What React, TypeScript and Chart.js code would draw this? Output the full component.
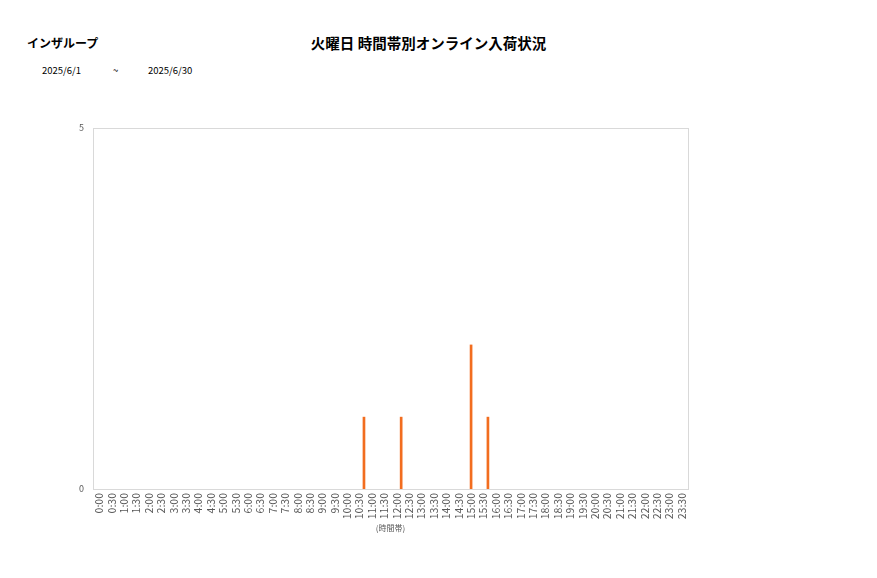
import { useEffect, useRef } from 'react'
import { Chart, registerables } from 'chart.js'

Chart.register(...registerables)

// 30-minute time slots, 0:00 .. 23:30
const SLOTS = [
  '0:00', '0:30', '1:00', '1:30', '2:00', '2:30', '3:00', '3:30',
  '4:00', '4:30', '5:00', '5:30', '6:00', '6:30', '7:00', '7:30',
  '8:00', '8:30', '9:00', '9:30', '10:00', '10:30', '11:00', '11:30',
  '12:00', '12:30', '13:00', '13:30', '14:00', '14:30', '15:00', '15:30',
  '16:00', '16:30', '17:00', '17:30', '18:00', '18:30', '19:00', '19:30',
  '20:00', '20:30', '21:00', '21:30', '22:00', '22:30', '23:00', '23:30',
]

const SERIES_A = [
  0, 0, 0, 0, 0, 0, 0, 0, 0, 0, 0, 0, 0, 0, 0, 0,
  0, 0, 0, 0, 0, 0, 0, 0, 0, 0, 0, 0, 0, 0, 0, 0,
  0, 0, 0, 0, 0, 0, 0, 0, 0, 0, 0, 0, 0, 0, 0, 0,
]
const SERIES_B = [
  0, 0, 0, 0, 0, 0, 0, 0, 0, 0, 0, 0, 0, 0, 0, 0,
  0, 0, 0, 0, 0, 0, 0, 0, 0, 0, 0, 0, 0, 0, 2, 0,
  0, 0, 0, 0, 0, 0, 0, 0, 0, 0, 0, 0, 0, 0, 0, 0,
]
const SERIES_C = [
  0, 0, 0, 0, 0, 0, 0, 0, 0, 0, 0, 0, 0, 0, 0, 0,
  0, 0, 0, 0, 0, 1, 0, 0, 1, 0, 0, 0, 0, 0, 0, 1,
  0, 0, 0, 0, 0, 0, 0, 0, 0, 0, 0, 0, 0, 0, 0, 0,
]

const Y_MIN = 0
const Y_MAX = 5

const SHOP = 'インザループ'
const TITLE = '火曜日 時間帯別オンライン入荷状況'
const DATE_FROM = '2025/6/1'
const DATE_TO = '2025/6/30'
const X_TITLE = '(時間帯)'

const ORANGE = '#f26d1f'
const GREY = '#595959'
const FONT = '"Noto Sans CJK JP", "Noto Sans", sans-serif'

const frame = {
  id: 'frame',
  afterDraw(c: Chart) {
    const { left, top, right, bottom } = c.chartArea
    const ctx = c.ctx
    ctx.save()
    ctx.strokeStyle = '#d9d9d9'
    ctx.lineWidth = 1
    ctx.strokeRect(Math.round(left) + 0.5, Math.round(top) + 0.5, Math.round(right - left), Math.round(bottom - top))
    ctx.restore()
  },
}

export default function App() {
  const ref = useRef<HTMLCanvasElement>(null)
  const chart = useRef<Chart | null>(null)

  useEffect(() => {
    if (!ref.current) return
    chart.current?.destroy()

    const ds = (data: number[]) => ({
      data,
      backgroundColor: ORANGE,
      borderWidth: 0,
      categoryPercentage: 1.08,
      barPercentage: 0.6,
    })

    chart.current = new Chart(ref.current, {
      type: 'bar',
      data: {
        labels: SLOTS,
        datasets: [ds(SERIES_A), ds(SERIES_B), ds(SERIES_C)],
      },
      options: {
        responsive: false,
        animation: false,
        layout: { padding: { left: 0, top: 128, right: 189, bottom: 45 } },
        plugins: { legend: { display: false }, tooltip: { enabled: false } },
        scales: {
          x: {
            grid: { display: false, drawTicks: false },
            border: { display: false },
            ticks: {
              autoSkip: false, minRotation: 90, maxRotation: 90, padding: 4,
              color: GREY, font: { family: FONT, size: 10.5 },
            },
            title: {
              display: true, text: X_TITLE, color: GREY, padding: 0,
              font: { family: FONT, size: 8 },
            },
            afterFit: s => { s.height = 44 },
          },
          y: {
            min: Y_MIN, max: Y_MAX,
            grid: { display: false, drawTicks: false },
            border: { display: false },
            ticks: { stepSize: 5, padding: 9, color: GREY, font: { family: FONT, size: 9 } },
            afterFit: s => { s.width = 93 },
          },
        },
      },
      plugins: [frame],
    })
    return () => chart.current?.destroy()
  }, [])

  return (
    <div style={{ position: 'fixed', left: 0, top: 0, width: 877, height: 578, background: '#fff', fontFamily: FONT, color: '#000' }}>
      <div style={{ position: 'absolute', left: 27, top: 34, fontSize: 12, fontWeight: 'bold', lineHeight: '18px' }}>{SHOP}</div>
      <div style={{ position: 'absolute', left: 0, width: 857, top: 33, textAlign: 'center', fontSize: 14.5, fontWeight: 'bold', lineHeight: '20px' }}>{TITLE}</div>
      <div style={{ position: 'absolute', left: 42, top: 63, fontSize: 9.5, lineHeight: '14px' }}>{DATE_FROM}</div>
      <div style={{ position: 'absolute', left: 113, top: 63, fontSize: 9.5, lineHeight: '14px' }}>~</div>
      <div style={{ position: 'absolute', left: 148, top: 63, fontSize: 9.5, lineHeight: '14px' }}>{DATE_TO}</div>
      <canvas ref={ref} width={877} height={578} style={{ position: 'absolute', left: 0, top: 0 }} role="img" aria-label={TITLE} />
    </div>
  )
}
